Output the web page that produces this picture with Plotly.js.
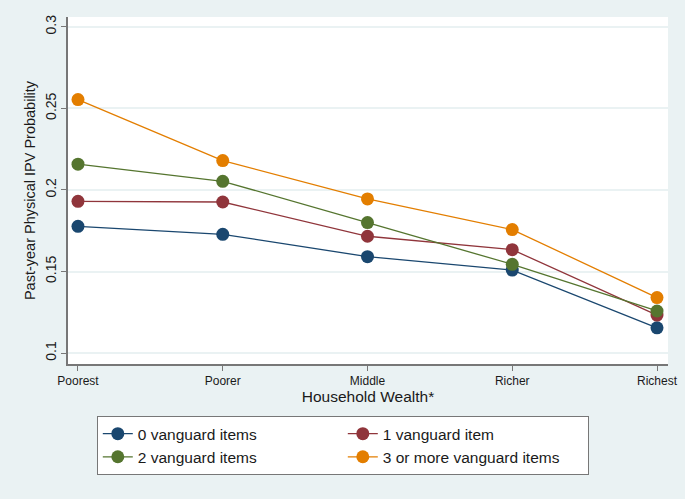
<!DOCTYPE html>
<html>
<head>
<meta charset="utf-8">
<script src="https://cdn.plot.ly/plotly-3.0.1.min.js"></script>
<style>
  html, body { margin: 0; padding: 0; background: #eaf2f3; }
  #graph1 { width: 685px; height: 499px; }
</style>
</head>
<body>
<div id="graph1"></div>
<script>
let wealth = ["Poorest", "Poorer", "Middle", "Richer", "Richest"];
let names = ["0 vanguard items", "1 vanguard item", "2 vanguard items", "3 or more vanguard items"];
let colors = ["#1a476f", "#90353b", "#55752f", "#e37e00"];

let items0 = [0.1777, 0.1728, 0.1591, 0.1509, 0.1155];
let items1 = [0.1930, 0.1926, 0.1716, 0.1634, 0.1233];
let items2 = [0.2158, 0.2053, 0.1800, 0.1544, 0.1258];
let items3 = [0.2554, 0.2180, 0.1945, 0.1757, 0.1340];

let yTicks = [0.1, 0.15, 0.2, 0.25, 0.3];
let yTickText = ["0.1", "0.15", "0.2", "0.25", "0.3"];

let series = [items0, items1, items2, items3];
let data = [];
for (let i = 0; i < series.length; i++) {
    data.push({
        x: [0, 1, 2, 3, 4],
        y: series[i],
        name: names[i],
        type: 'scatter',
        mode: 'lines+markers',
        line: {color: colors[i], width: 1.3},
        marker: {color: colors[i], size: 13}
    });
}

let layout = {
    width: 685,
    height: 499,
    paper_bgcolor: '#eaf2f3',
    plot_bgcolor: '#ffffff',
    font: {family: 'Liberation Sans, Arial, sans-serif', color: '#1a1a1a'},
    margin: {l: 68, r: 17, t: 17, b: 135},
    showlegend: true,
    xaxis: {
        range: [-0.069, 4.076],
        tickvals: [0, 1, 2, 3, 4],
        ticktext: wealth,
        ticks: 'outside',
        ticklen: 5,
        tickcolor: '#777',
        tickfont: {size: 12},
        showgrid: false,
        zeroline: false,
        showline: true,
        linecolor: '#777',
        linewidth: 1.5,
        title: {text: 'Household Wealth*', font: {size: 15.5}, standoff: 2}
    },
    yaxis: {
        range: [0.0933, 0.306],
        tickvals: yTicks,
        ticktext: yTickText,
        tickangle: -90,
        ticks: 'outside',
        ticklen: 5,
        tickcolor: '#777',
        tickfont: {size: 14},
        showgrid: true,
        gridcolor: '#eaf2f3',
        gridwidth: 1.5,
        zeroline: false,
        showline: true,
        linecolor: '#777',
        linewidth: 1.5,
        title: {text: 'Past-year Physical IPV Probability', font: {size: 14.5}, standoff: 4}
    },
    legend: {
        orientation: 'h',
        x: 0.048,
        y: -0.15,
        xanchor: 'left',
        yanchor: 'top',
        bgcolor: '#ffffff',
        bordercolor: '#777',
        borderwidth: 1,
        entrywidth: 200,
        entrywidthmode: 'pixels',
        font: {size: 15.5},
        traceorder: 'normal'
    }
};

Plotly.newPlot('graph1', data, layout, {displayModeBar: false});
</script>
</body>
</html>
